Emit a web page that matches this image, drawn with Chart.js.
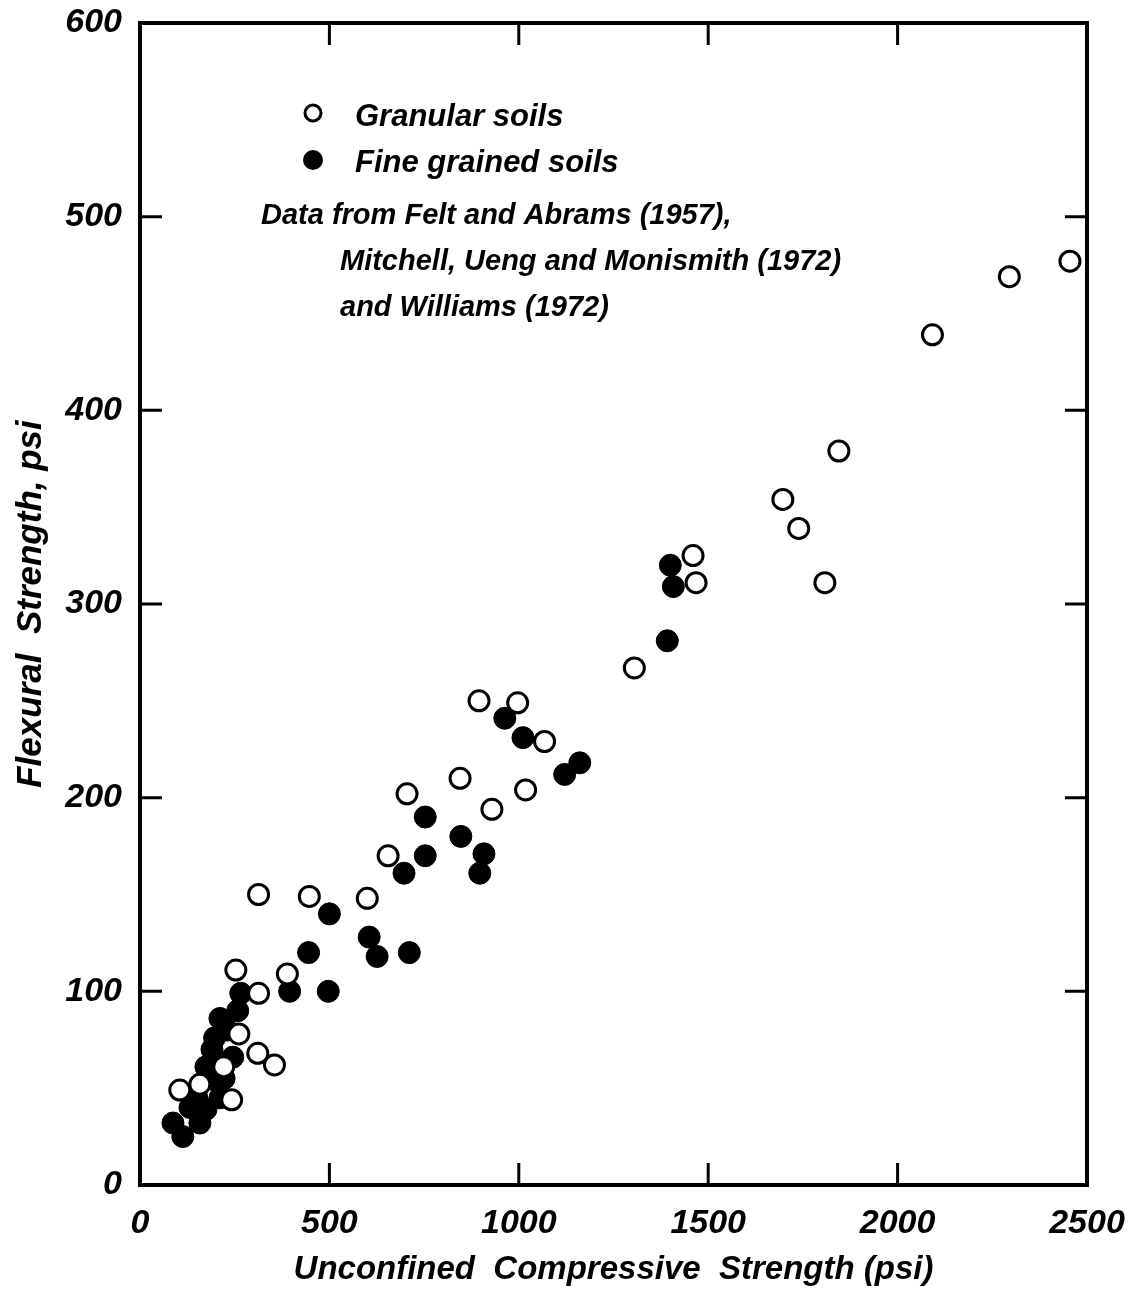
<!DOCTYPE html>
<html>
<head>
<meta charset="utf-8">
<script src="https://cdn.jsdelivr.net/npm/chart.js@4.4.1/dist/chart.umd.min.js"></script>
<style>
  html, body { margin: 0; padding: 0; background: #fff; }
  #wrap { width: 1132px; height: 1299px; }
</style>
</head>
<body>
<div id="wrap"><canvas id="flexChart"></canvas></div>
<script>
// values (psi)
const granularX = [2455, 2295, 2092, 1845, 1697, 1739, 1808, 1460, 1468, 1305, 895, 997, 1068, 1018, 929, 845, 705, 655, 313, 447, 600, 389, 253, 313, 261, 311, 355, 221, 158, 105, 242];
const granularY = [477, 469, 439, 379, 354, 339, 311, 325, 311, 267, 250, 249, 229, 204, 194, 210, 202, 170, 150, 149, 148, 109, 111, 99, 78, 68, 62, 61, 52, 49, 44];

const fineX = [1400, 1408, 1392, 1161, 1121, 963, 1011, 847, 753, 753, 697, 908, 897, 500, 445, 605, 626, 711, 395, 497, 266, 258, 211, 197, 245, 174, 200, 211, 132, 87, 113, 158, 174, 230, 190, 222, 150];
const fineY = [320, 309, 281, 218, 212, 241, 231, 180, 190, 170, 161, 171, 161, 140, 120, 128, 118, 120, 100, 100, 99, 90, 86, 76, 66, 61, 54, 45, 40, 32, 25, 32, 39, 80, 70, 55, 45];

const xTicks = [0, 500, 1000, 1500, 2000, 2500];
const yTicks = [0, 100, 200, 300, 400, 500, 600];

const legendLines = [
  "Data from Felt and Abrams (1957),",
  "Mitchell, Ueng and Monismith (1972)",
  "and Williams (1972)",
];

const toPoints = (xs, ys) => xs.map((x, i) => ({ x: x, y: ys[i] }));

const FONT = '"Liberation Sans", Arial, sans-serif';

// frame, inward ticks on all four sides, and the inset legend
const framePlugin = {
  id: 'frame',
  afterDraw(chart) {
    const { ctx, chartArea: a, scales } = chart;
    const tick = 22;
    ctx.save();
    ctx.strokeStyle = '#000';
    ctx.lineWidth = 4;
    ctx.strokeRect(a.left, a.top, a.right - a.left, a.bottom - a.top);
    ctx.lineWidth = 3;
    ctx.beginPath();
    xTicks.slice(1, -1).forEach(v => {
      const px = scales.x.getPixelForValue(v);
      ctx.moveTo(px, a.bottom); ctx.lineTo(px, a.bottom - tick);
      ctx.moveTo(px, a.top); ctx.lineTo(px, a.top + tick);
    });
    yTicks.slice(1, -1).forEach(v => {
      const py = scales.y.getPixelForValue(v);
      ctx.moveTo(a.left, py); ctx.lineTo(a.left + tick, py);
      ctx.moveTo(a.right, py); ctx.lineTo(a.right - tick, py);
    });
    ctx.stroke();

    // legend
    const lx = a.left + 173;
    ctx.fillStyle = '#000';
    ctx.font = 'italic bold 31px ' + FONT;
    ctx.textBaseline = 'middle';
    ctx.lineWidth = 3;
    ctx.beginPath();
    ctx.arc(lx, a.top + 90, 8, 0, Math.PI * 2);
    ctx.stroke();
    ctx.beginPath();
    ctx.arc(lx, a.top + 137, 10, 0, Math.PI * 2);
    ctx.fill();
    ctx.fillText('Granular soils', a.left + 215, a.top + 94);
    ctx.fillText('Fine grained soils', a.left + 215, a.top + 140);
    ctx.font = 'italic bold 29px ' + FONT;
    ctx.fillText(legendLines[0], a.left + 121, a.top + 193);
    ctx.fillText(legendLines[1], a.left + 200, a.top + 239);
    ctx.fillText(legendLines[2], a.left + 200, a.top + 285);
    ctx.restore();
  }
};

const ctx = document.getElementById('flexChart').getContext('2d');
new Chart(ctx, {
  type: 'scatter',
  data: {
    datasets: [
      {
        label: 'Granular soils',
        data: toPoints(granularX, granularY),
        pointStyle: 'circle',
        pointRadius: 10,
        pointBorderWidth: 3,
        borderColor: '#000',
        backgroundColor: '#fff',
        order: 0,
      },
      {
        label: 'Fine grained soils',
        data: toPoints(fineX, fineY),
        pointStyle: 'circle',
        pointRadius: 11,
        pointBorderWidth: 1,
        borderColor: '#000',
        backgroundColor: '#000',
        order: 1,
      },
    ],
  },
  options: {
    responsive: true,
    maintainAspectRatio: false,
    animation: false,
    layout: { padding: { top: 23, right: 45, left: 0, bottom: 0 } },
    plugins: {
      legend: { display: false },
      tooltip: { enabled: false },
    },
    scales: {
      x: {
        type: 'linear',
        min: 0,
        max: 2500,
        afterFit: s => { s.height = 114; s.paddingRight = 0; s.paddingLeft = 0; },
        afterBuildTicks: s => { s.ticks = xTicks.map(v => ({ value: v })); },
        grid: { display: false, drawTicks: false },
        border: { display: false },
        ticks: {
          padding: 18,
          color: '#000',
          font: { family: FONT, size: 34, style: 'italic', weight: 'bold' },
          maxRotation: 0,
          callback: v => String(v),
        },
        title: {
          display: true,
          text: 'Unconfined  Compressive  Strength (psi)',
          color: '#000',
          font: { family: FONT, size: 33, style: 'italic', weight: 'bold' },
          padding: { top: 0, bottom: 9 },
        },
      },
      y: {
        type: 'linear',
        min: 0,
        max: 600,
        afterFit: s => { s.width = 140; s.paddingTop = 0; s.paddingBottom = 0; },
        afterBuildTicks: s => { s.ticks = yTicks.map(v => ({ value: v })); },
        grid: { display: false, drawTicks: false },
        border: { display: false },
        ticks: {
          padding: 18,
          color: '#000',
          font: { family: FONT, size: 34, style: 'italic', weight: 'bold' },
        },
        title: {
          display: true,
          text: 'Flexural  Strength, psi',
          color: '#000',
          font: { family: FONT, size: 35, style: 'italic', weight: 'bold' },
          padding: { top: 10, bottom: 0 },
        },
      },
    },
  },
  plugins: [framePlugin],
});
</script>
</body>
</html>
